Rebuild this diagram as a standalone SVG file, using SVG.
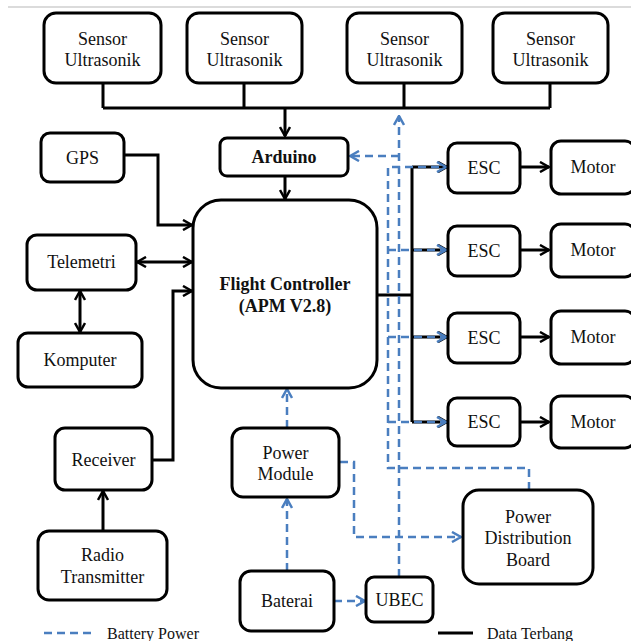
<svg xmlns="http://www.w3.org/2000/svg" width="631" height="641" viewBox="0 0 631 641" font-family="'Liberation Serif', 'DejaVu Serif', serif">
<style>
.box{fill:#fff;stroke:#000;stroke-width:3}
.t{font-family:'Liberation Serif','DejaVu Serif',serif;font-size:18px;fill:#111;text-anchor:middle}
.b{font-weight:bold}
.lg{font-family:'Liberation Serif','DejaVu Serif',serif;font-size:16px;fill:#111}
.d{fill:none;stroke:#000;stroke-width:3}
.p{fill:none;stroke:#4a7ebf;stroke-width:2.5;stroke-dasharray:8 5}
</style>
<defs>
<marker id="ak" viewBox="0 0 12 12" refX="11" refY="6" markerWidth="12" markerHeight="12" markerUnits="userSpaceOnUse" orient="auto-start-reverse">
<path d="M2,1 L11,6 L2,11" fill="none" stroke="#000" stroke-width="2.5"/>
</marker>
<marker id="ab" viewBox="0 0 12 12" refX="11" refY="6" markerWidth="12" markerHeight="12" markerUnits="userSpaceOnUse" orient="auto-start-reverse">
<path d="M2,1 L11,6 L2,11" fill="none" stroke="#4a7ebf" stroke-width="2.5"/>
</marker>
</defs>
<rect width="631" height="641" fill="#fff"/>
<line x1="8" y1="7" x2="631" y2="7" stroke="#cfcfcf" stroke-width="1.5"/>

<g id="connectors">
<path class="d" d="M103,83 V108 M244,83 V108 M404,83 V108 M550,83 V108 M103,108 H550"/>
<path class="d" d="M285,108 V136" marker-end="url(#ak)"/>
<path class="d" d="M285,176 V199" marker-end="url(#ak)"/>
<path class="d" d="M124,155 H158 V225 H192" marker-end="url(#ak)"/>
<path class="d" d="M137,262 H192" marker-start="url(#ak)" marker-end="url(#ak)"/>
<path class="d" d="M80,291 V332" marker-start="url(#ak)" marker-end="url(#ak)"/>
<path class="d" d="M152,460 H173 V291 H192" marker-end="url(#ak)"/>
<path class="d" d="M103,531 V491" marker-end="url(#ak)"/>
<path class="d" d="M377,295 H412 M412,167 V422"/>
<path class="d" d="M412,167 H447" marker-end="url(#ak)"/>
<path class="d" d="M412,250 H447" marker-end="url(#ak)"/>
<path class="d" d="M412,337 H447" marker-end="url(#ak)"/>
<path class="d" d="M412,422 H447" marker-end="url(#ak)"/>
<path class="d" d="M520,167 H549" marker-end="url(#ak)"/>
<path class="d" d="M520,250 H549" marker-end="url(#ak)"/>
<path class="d" d="M520,337 H549" marker-end="url(#ak)"/>
<path class="d" d="M520,422 H549" marker-end="url(#ak)"/>
<path class="p" d="M399,577 V116" marker-end="url(#ab)"/>
<path class="p" d="M399,156 H350" marker-end="url(#ab)"/>
<path class="p" d="M529,490 V468 H388 V167 H446" marker-end="url(#ab)"/>
<path class="p" d="M388,250 H446" marker-end="url(#ab)"/>
<path class="p" d="M388,337 H446" marker-end="url(#ab)"/>
<path class="p" d="M388,422 H446" marker-end="url(#ab)"/>
<path class="p" d="M287,571 V499" marker-end="url(#ab)"/>
<path class="p" d="M287,428 V389" marker-end="url(#ab)"/>
<path class="p" d="M340,462 H354 V537 H461" marker-end="url(#ab)"/>
<path class="p" d="M334,601 H365" marker-end="url(#ab)"/>
</g>

<g id="sensor1"><rect class="box" x="44" y="13" width="117" height="70" rx="12"/><text class="t" x="102.5" y="45">Sensor</text><text class="t" x="102.5" y="66">Ultrasonik</text></g>
<g id="sensor2"><rect class="box" x="187" y="13" width="115" height="70" rx="12"/><text class="t" x="244.5" y="45">Sensor</text><text class="t" x="244.5" y="66">Ultrasonik</text></g>
<g id="sensor3"><rect class="box" x="347" y="13" width="115" height="70" rx="12"/><text class="t" x="404.5" y="45">Sensor</text><text class="t" x="404.5" y="66">Ultrasonik</text></g>
<g id="sensor4"><rect class="box" x="493" y="13" width="115" height="70" rx="12"/><text class="t" x="550.5" y="45">Sensor</text><text class="t" x="550.5" y="66">Ultrasonik</text></g>
<g id="arduino"><rect class="box" x="220" y="138" width="128" height="38" rx="7"/><text class="t b" x="284" y="163">Arduino</text></g>
<g id="gps"><rect class="box" x="41" y="133" width="83" height="49" rx="9"/><text class="t" x="82.5" y="164">GPS</text></g>
<g id="telemetri"><rect class="box" x="27" y="235" width="109" height="55" rx="10"/><text class="t" x="81.5" y="268">Telemetri</text></g>
<g id="komputer"><rect class="box" x="18" y="333" width="124" height="54" rx="10"/><text class="t" x="80" y="366">Komputer</text></g>
<g id="fc"><rect class="box" x="193" y="200" width="184" height="188" rx="28"/><text class="t b" x="285" y="290">Flight Controller</text><text class="t b" x="285" y="312">(APM V2.8)</text></g>
<g id="receiver"><rect class="box" x="55" y="428" width="97" height="62" rx="10"/><text class="t" x="103.5" y="466">Receiver</text></g>
<g id="radio"><rect class="box" x="38" y="531" width="129" height="69" rx="11"/><text class="t" x="102.5" y="561">Radio</text><text class="t" x="102.5" y="583">Transmitter</text></g>
<g id="esc1"><rect class="box" x="448" y="143" width="72" height="50" rx="9"/><text class="t" x="484" y="174">ESC</text></g>
<g id="esc2"><rect class="box" x="448" y="226" width="72" height="50" rx="9"/><text class="t" x="484" y="257">ESC</text></g>
<g id="esc3"><rect class="box" x="448" y="313" width="72" height="50" rx="9"/><text class="t" x="484" y="344">ESC</text></g>
<g id="esc4"><rect class="box" x="448" y="398" width="72" height="48" rx="9"/><text class="t" x="484" y="428">ESC</text></g>
<g id="motor1"><rect class="box" x="551" y="141" width="84" height="53" rx="10"/><text class="t" x="593" y="173">Motor</text></g>
<g id="motor2"><rect class="box" x="551" y="224" width="84" height="53" rx="10"/><text class="t" x="593" y="256">Motor</text></g>
<g id="motor3"><rect class="box" x="551" y="311" width="84" height="53" rx="10"/><text class="t" x="593" y="343">Motor</text></g>
<g id="motor4"><rect class="box" x="551" y="396" width="84" height="52" rx="10"/><text class="t" x="593" y="428">Motor</text></g>
<g id="powermodule"><rect class="box" x="232" y="428" width="107" height="69" rx="11"/><text class="t" x="285.5" y="459">Power</text><text class="t" x="285.5" y="480">Module</text></g>
<g id="pdb"><rect class="box" x="463" y="490" width="130" height="94" rx="16"/><text class="t" x="528" y="523">Power</text><text class="t" x="528" y="544">Distribution</text><text class="t" x="528" y="566">Board</text></g>
<g id="baterai"><rect class="box" x="240" y="571" width="94" height="60" rx="11"/><text class="t" x="287" y="607">Baterai</text></g>
<g id="ubec"><rect class="box" x="366" y="577" width="67" height="45" rx="8"/><text class="t" x="399.5" y="606">UBEC</text></g>

<g id="legend">
<line class="p" x1="44" y1="633" x2="91" y2="633"/>
<text class="lg" x="107" y="639">Battery Power</text>
<line x1="438" y1="633" x2="473" y2="633" stroke="#000" stroke-width="3"/>
<text class="lg" x="487" y="639">Data Terbang</text>
</g>
</svg>
